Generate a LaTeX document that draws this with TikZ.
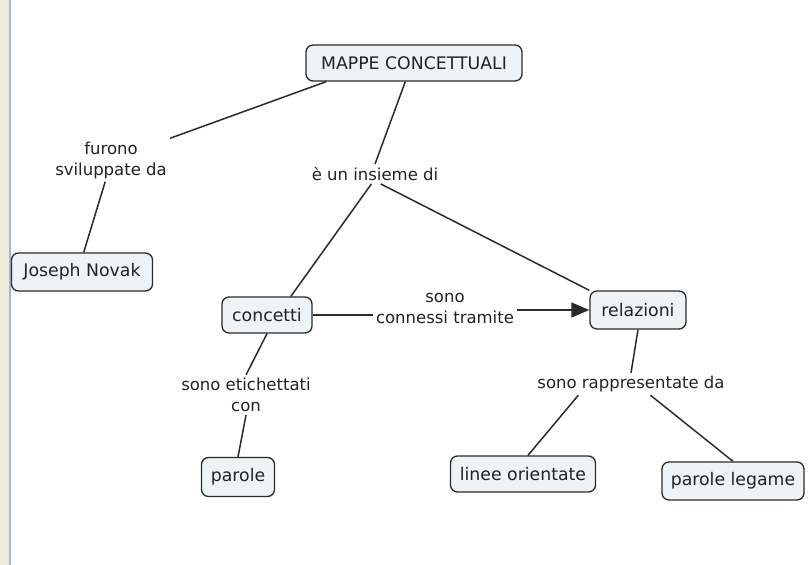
\documentclass[tikz,border=0pt]{standalone}
\usepackage{fontspec}
\setmainfont{DejaVu Sans}
\usetikzlibrary{arrows.meta}
\definecolor{cmapline}{HTML}{2A2A2A}
\definecolor{cmaptext}{HTML}{222222}
\definecolor{conceptfill}{HTML}{EEF3F6}
\definecolor{sidestrip}{HTML}{EFEBDB}
\definecolor{sideline}{HTML}{9BB8D8}
\tikzset{
  concept/.style={draw=cmapline, line width=1.3pt, fill=conceptfill, rounded corners=7pt,
    inner xsep=8pt, minimum height=36pt, text=cmaptext, font=\fontsize{17.3}{22}\selectfont},
  linkphrase/.style={align=center, inner sep=3pt, text=cmaptext, font=\fontsize{16.5}{21}\selectfont},
  link/.style={draw=cmapline, line width=1.5pt}
}
\begin{document}
\begin{tikzpicture}[x=1pt,y=-1pt]
\useasboundingbox (0,0) rectangle (809,565);
\fill [sidestrip] (0,0) rectangle (9,565);
\draw [sideline, line width=1.6pt] (9.8,0) to (9.8,565);

  % concepts
  \node [concept, minimum width=216pt] (mappe) at (414,63) {MAPPE CONCETTUALI};
  \node [concept, minimum width=141pt, minimum height=38pt] (novak) at (82,272) {Joseph Novak};
  \node [concept, minimum width=90pt] (concetti) at (267,315) {concetti};
  \node [concept, minimum width=96pt, minimum height=38pt] (relazioni) at (638,310) {relazioni};
  \node [concept, minimum width=73pt, minimum height=39pt] (parole) at (238,477) {parole};
  \node [concept, minimum width=145pt] (linee) at (523,474) {linee orientate};
  \node [concept, minimum width=142pt, minimum height=38pt] (legame) at (733,481) {parole legame};

  % linking phrases
  \node [linkphrase] (furono) at (111,160) {furono\\sviluppate da};
  \node [linkphrase] (insieme) at (375,174) {è un insieme di};
  \node [linkphrase] (connessi) at (445,308) {sono\\connessi tramite};
  \node [linkphrase] (etichettati) at (246,395) {sono etichettati\\con};
  \node [linkphrase] (rappresentate) at (631,384) {sono rappresentate da};

\draw [link] (mappe.192) to (furono.north east);
\draw [link] (furono.255) to (novak.85);
\draw [link] (mappe.245) to (insieme.north);
\draw [link] (insieme.250) to (concetti.38);
\draw [link] (insieme.300) to (relazioni.north west);
\draw [link] (concetti.east) to (concetti.east -| connessi.west);
\draw [link, -{Triangle[length=18pt,width=15pt]}] (connessi.east |- relazioni.west) to (relazioni.west);
\draw [link] (concetti.south) to (etichettati.north);
\draw [link] (etichettati.south) to (parole.north);
\draw [link] (relazioni.south) to (rappresentate.north);
\draw [link] (rappresentate.192) to (linee.75);
\draw [link] (rappresentate.-30) to (legame.north);
\end{tikzpicture}
\end{document}
